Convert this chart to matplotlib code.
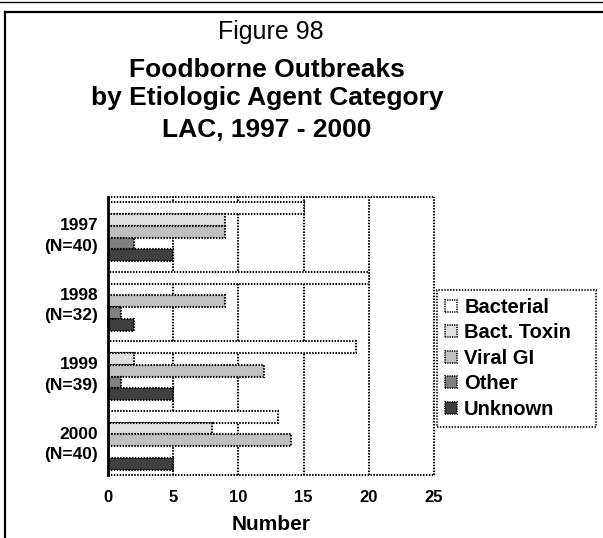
import numpy as np
import matplotlib.pyplot as plt
from matplotlib.lines import Line2D

plt.rcParams['font.family'] = ['Liberation Sans', 'DejaVu Sans']

years = ['1997\n(N=40)', '1998\n(N=32)', '1999\n(N=39)', '2000\n(N=40)']
categories = ['Bacterial', 'Bact. Toxin', 'Viral GI', 'Other', 'Unknown']
bacterial = [15, 20, 19, 13]
bact_toxin = [9, 0, 2, 8]
viral_gi = [9, 9, 12, 14]
other = [2, 1, 1, 0]
unknown = [5, 2, 5, 5]
xticks = [0, 5, 10, 15, 20, 25]

series = [bacterial, bact_toxin, viral_gi, other, unknown]
colors = ['#ffffff', '#e0e0e0', '#c0c0c0', '#808080', '#404040']
dots = (0, (0.7, 0.7))

W, H = 603, 538
fig = plt.figure(figsize=(W / 100, H / 100), dpi=100)
ax = fig.add_axes([108 / W, 1 - 475 / H, (434 - 108) / W, (475 - 197) / H])

# groups run top to bottom, Bacterial first in each group
pos = np.arange(len(years))[::-1]
h = 0.17
for k, (vals, col, name) in enumerate(zip(series, colors, categories)):
    ax.barh(pos + (2 - k) * h, vals, height=h, color=col, edgecolor='black',
            linewidth=1.5, linestyle=dots, label=name, zorder=3)

ax.set_xlim(0, 25)
ax.set_ylim(-0.5, 3.5)
ax.set_xticks(xticks)
ax.set_xticklabels([str(t) for t in xticks], fontsize=12, fontweight='bold')
ax.set_yticks(pos)
ax.set_yticklabels(years, fontsize=12.5, fontweight='bold', linespacing=1.45)
ax.tick_params(axis='both', length=0)
ax.tick_params(axis='x', pad=11)
ax.tick_params(axis='y', pad=7)
for xv in xticks[1:]:
    ax.axvline(xv, color='black', linewidth=1.5, linestyle=dots, zorder=1,
               clip_on=False)
for yv in [-0.5, 3.5]:
    ax.axhline(yv, color='black', linewidth=1.5, linestyle=dots, zorder=1,
               clip_on=False)

for side in ['top', 'right', 'bottom']:
    ax.spines[side].set_visible(False)
ax.spines['left'].set_linewidth(2)
ax.spines['left'].set_zorder(4)

ax.set_xlabel('Number', fontsize=15, fontweight='bold', labelpad=7)

leg = ax.legend(loc='upper left', bbox_to_anchor=(437 / W, 1 - 426 / H, 159 / W, 136 / H),
                bbox_transform=fig.transFigure, borderaxespad=0, mode='expand',
                prop={'size': 14.5, 'weight': 'bold'}, fancybox=False,
                handlelength=0.6, handleheight=0.55, handletextpad=0.35,
                labelspacing=0.32, borderpad=0.4)
leg.get_frame().set_edgecolor('black')
leg.get_frame().set_linestyle(dots)
leg.get_frame().set_linewidth(1.5)
for p in leg.get_patches():
    p.set_linewidth(1.2)

# title block centred over the plot area
cx = 271 / W
fig.text(cx, 1 - 39 / H, 'Figure 98', ha='center', va='baseline', fontsize=18)
titles = ['Foodborne Outbreaks', 'by Etiologic Agent Category', 'LAC, 1997 - 2000']
for t, base in zip(titles, [77, 105, 137]):
    fig.text(cx - 4 / W, 1 - base / H, t, ha='center', va='baseline',
             fontsize=19, fontweight='bold')

# page frame
fig.add_artist(Line2D([0, 1], [1 - 1.5 / H] * 2, color='black', linewidth=1,
                      transform=fig.transFigure))
fig.add_artist(Line2D([5 / W, 1], [1 - 11.5 / H] * 2, color='black', linewidth=1.6,
                      transform=fig.transFigure))
fig.add_artist(Line2D([5 / W, 5 / W], [1 - 11.5 / H, 0], color='black', linewidth=1.6,
                      transform=fig.transFigure))

fig.savefig('out.png', dpi=100)
